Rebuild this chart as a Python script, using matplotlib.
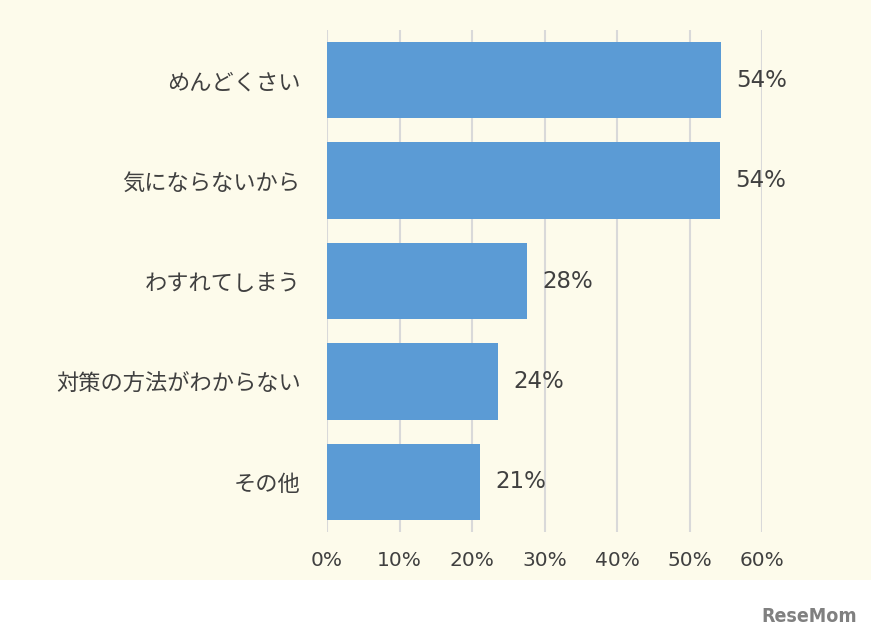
import matplotlib.pyplot as plt
import matplotlib.patches as patches
import numpy as np

plt.rcParams['font.family'] = ['Noto Sans CJK JP', 'DejaVu Sans']

categories = ['めんどくさい', '気にならないから', 'わすれてしまう', '対策の方法がわからない', 'その他']
values = [54.3, 54.2, 27.6, 23.6, 21.1]
labels = ['54%', '54%', '28%', '24%', '21%']
xticks = [0, 10, 20, 30, 40, 50, 60]

text_color = '#404040'
cream = '#FDFBEB'

fig = plt.figure(figsize=(8.71, 6.39), dpi=100, facecolor='white')
fig.patches.append(patches.Rectangle((0, 59 / 639), 1, 1 - 59 / 639, transform=fig.transFigure,
                                     facecolor=cream, edgecolor='none', zorder=-10))

ax = fig.add_axes([327 / 871, 1 - 532 / 639, (762 - 327) / 871, (532 - 30) / 639])
ax.set_facecolor('none')

y = np.arange(len(categories))
ax.barh(y, values, height=0.76, color='#5B9BD5', zorder=3)
for yi, v, lab in zip(y, values, labels):
    ax.annotate(lab, (v, yi), xytext=(11, 0), textcoords='offset points',
                va='center', ha='left', fontsize=16.5, color=text_color, family='DejaVu Sans')

ax.set_xlim(0, 60)
ax.set_ylim(len(categories) - 0.5, -0.5)
ax.set_yticks(y)
ax.set_yticklabels(categories, fontsize=16, color=text_color)
ax.set_xticks(xticks)
ax.set_xticklabels([f'{t}%' for t in xticks], fontsize=14.5, color=text_color, family='DejaVu Sans')
ax.tick_params(axis='y', length=0, pad=19)
ax.tick_params(axis='x', length=0, pad=14)
ax.grid(axis='x', color='#D9D9D9', linewidth=1.5, zorder=0)
for s in ax.spines.values():
    s.set_visible(False)

# logo at the bottom right
fig.text(857 / 871, 1 - 617 / 639, 'ReseMom', ha='right', va='center', fontsize=14,
         fontweight='bold', fontstretch='condensed', color='#808080', family='DejaVu Sans')

fig.savefig('out.png', dpi=100, facecolor='white')
